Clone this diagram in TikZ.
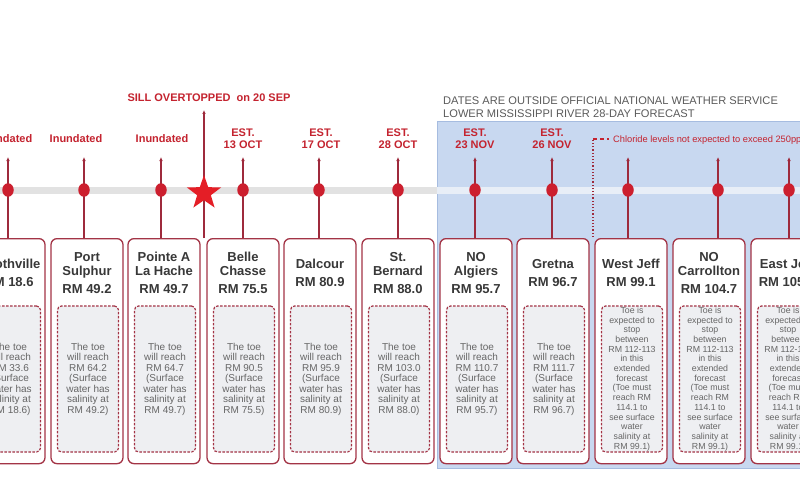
\documentclass[tikz,border=0pt]{standalone}
\usepackage{fontspec}
\setmainfont{Liberation Sans}
\usetikzlibrary{shapes.geometric,arrows.meta}
\definecolor{lineMaroon}{HTML}{9E2A3C}
\definecolor{boxEdge}{HTML}{A33446}
\definecolor{dotRed}{HTML}{CC1F2E}
\definecolor{labRed}{HTML}{C4232F}
\definecolor{starRed}{HTML}{E41E26}
\definecolor{titleGray}{HTML}{383838}
\definecolor{textGray}{HTML}{666666}
\definecolor{innerFill}{HTML}{EEEFF2}
\definecolor{blueFill}{HTML}{C8D8F0}
\definecolor{blueEdge}{HTML}{A6BCE0}
\definecolor{hdrGray}{HTML}{5A5A5A}
\definecolor{bandGray}{HTML}{E2E2E2}
\definecolor{bandBlue}{HTML}{E8EEF7}
\tikzset{
  stationbox/.style={draw=boxEdge, line width=1.3pt, fill=white, rounded corners=6pt,
    minimum width=72pt, minimum height=225pt, anchor=north, inner sep=0pt},
  titletext/.style={align=center, text=titleGray, inner sep=0pt,
    font=\fontsize{13}{14}\selectfont\bfseries},
  innerbox/.style={draw=boxEdge, line width=1.2pt, dash pattern=on 2.5pt off 1.5pt,
    fill=innerFill, rounded corners=4pt, minimum width=61pt, minimum height=146pt,
    inner sep=0pt, align=center, text=textGray},
  toetext/.style={font=\fontsize{10}{10.5}\selectfont},
  longtext/.style={font=\fontsize{8.8}{9.7}\selectfont},
  vline/.style={draw=lineMaroon, line width=1.4pt, -{Latex[length=4pt,width=3.6pt]}},
  dotnode/.style={ellipse, fill=dotRed, minimum width=11.5pt, minimum height=13.5pt, inner sep=0pt},
  redlabel/.style={text=labRed, align=center, inner sep=0pt,
    font=\fontsize{11}{12}\selectfont\bfseries},
  hdrtext/.style={text=hdrGray, align=left, inner sep=0pt, anchor=north west,
    font=\fontsize{11.1}{12.5}\selectfont},
  chloride/.style={text=labRed, inner sep=0pt, anchor=base west,
    font=\fontsize{9.3}{10}\selectfont},
}
\newcommand\mystation[6]{%
  \node[stationbox] (box#1) at (#2,238) {};
  \node[titletext] (title#1) at (#2,273) {#4};
  \node[innerbox,#6] (inner#1) at (#2+1,379) {#5};
  \coordinate (tip#1) at (#3,157);
  \draw[vline] (tip#1 |- box#1.north) -- (tip#1);
  \node[dotnode] (dot#1) at (#3,190) {};
}
\begin{document}
\begin{tikzpicture}[x=1pt,y=-1pt]
\useasboundingbox (0,0) rectangle (800,500);
\clip (0,0) rectangle (800,500);
\fill[white] (0,0) rectangle (800,500);
% forecast area
\path[fill=blueFill, draw=blueEdge, line width=1pt] (437,122) rectangle (812,468);
\node[hdrtext] (hdr) at (443,97) {DATES ARE OUTSIDE OFFICIAL NATIONAL WEATHER SERVICE\\LOWER MISSISSIPPI RIVER 28-DAY FORECAST};
% timeline band
\fill[bandGray] (0,187) rectangle (437,194);
\fill[bandBlue] (437,187) rectangle (800,194);
% chloride marker
\coordinate (chlTop) at (593,139);
\coordinate (chlBot) at (593,237);
\coordinate (chlEnd) at (609,139);
\draw[lineMaroon, line width=1.2pt, dotted] (chlBot) -- (chlTop);
\draw[labRed, line width=1.2pt, dash pattern=on 4pt off 3pt] (chlTop) -- (chlEnd);
\node[chloride] (chl) at (613,142.5) {Chloride levels not expected to exceed 250ppm};
% stations
\mystation{1}{9}{8}{Boothville\\[4pt]RM 18.6}{The toe\\will reach\\RM 33.6\\(Surface\\water has\\salinity at\\RM 18.6)}{toetext}
\mystation{2}{87}{84}{Port\\Sulphur\\[4pt]RM 49.2}{The toe\\will reach\\RM 64.2\\(Surface\\water has\\salinity at\\RM 49.2)}{toetext}
\mystation{3}{164}{161}{Pointe A\\La Hache\\[4pt]RM 49.7}{The toe\\will reach\\RM 64.7\\(Surface\\water has\\salinity at\\RM 49.7)}{toetext}
\mystation{4}{243}{243}{Belle\\Chasse\\[4pt]RM 75.5}{The toe\\will reach\\RM 90.5\\(Surface\\water has\\salinity at\\RM 75.5)}{toetext}
\mystation{5}{320}{319}{Dalcour\\[4pt]RM 80.9}{The toe\\will reach\\RM 95.9\\(Surface\\water has\\salinity at\\RM 80.9)}{toetext}
\mystation{6}{398}{398}{St.\\Bernard\\[4pt]RM 88.0}{The toe\\will reach\\RM 103.0\\(Surface\\water has\\salinity at\\RM 88.0)}{toetext}
\mystation{7}{476}{475}{NO\\Algiers\\[4pt]RM 95.7}{The toe\\will reach\\RM 110.7\\(Surface\\water has\\salinity at\\RM 95.7)}{toetext}
\mystation{8}{553}{552}{Gretna\\[4pt]RM 96.7}{The toe\\will reach\\RM 111.7\\(Surface\\water has\\salinity at\\RM 96.7)}{toetext}
\mystation{9}{631}{628}{West Jeff\\[4pt]RM 99.1}{Toe is\\expected to\\stop\\between\\RM 112-113\\in this\\extended\\forecast\\(Toe must\\reach RM\\114.1 to\\see surface\\water\\salinity at\\RM 99.1)}{longtext}
\mystation{10}{709}{718}{NO\\Carrollton\\[4pt]RM 104.7}{Toe is\\expected to\\stop\\between\\RM 112-113\\in this\\extended\\forecast\\(Toe must\\reach RM\\114.1 to\\see surface\\water\\salinity at\\RM 99.1)}{longtext}
\mystation{11}{787}{789}{East Jeff\\[4pt]RM 105.6}{Toe is\\expected to\\stop\\between\\RM 112-113\\in this\\extended\\forecast\\(Toe must\\reach RM\\114.1 to\\see surface\\water\\salinity at\\RM 99.1)}{longtext}
% sill overtopped
\coordinate (sillTip) at (204,110);
\draw[vline] (sillTip |- box4.north) -- (sillTip);
\node[star, star points=5, star point ratio=2.5, fill=starRed, minimum size=36pt, inner sep=0pt] (star) at (204,193) {};
\node[redlabel] (sill) at (209,98) {SILL OVERTOPPED\ \ on 20 SEP};
% labels
\node[redlabel] (lab1) at (6,139) {Inundated};
\node[redlabel] (lab2) at (76,139) {Inundated};
\node[redlabel] (lab3) at (162,139) {Inundated};
\node[redlabel] (lab4) at (243,138.5) {EST.\\13 OCT};
\node[redlabel] (lab5) at (321,138.5) {EST.\\17 OCT};
\node[redlabel] (lab6) at (398,138.5) {EST.\\28 OCT};
\node[redlabel] (lab7) at (475,138.5) {EST.\\23 NOV};
\node[redlabel] (lab8) at (552,138.5) {EST.\\26 NOV};
\end{tikzpicture}
\end{document}
